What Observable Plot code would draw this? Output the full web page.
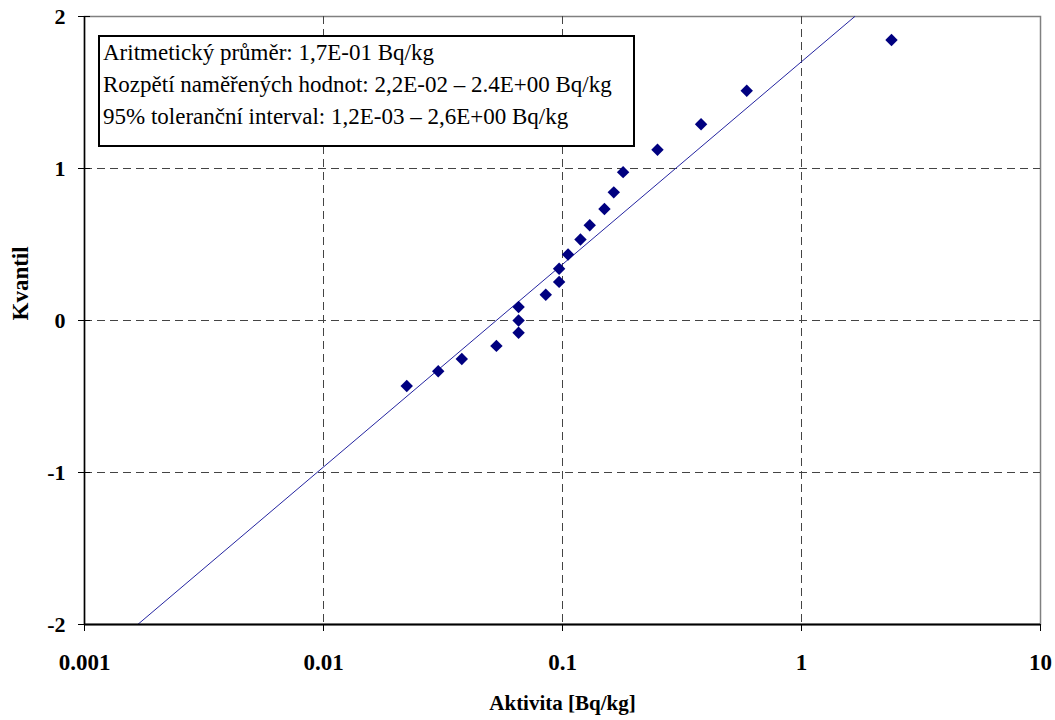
<!DOCTYPE html>
<html>
<head>
<meta charset="utf-8">
<script src="https://cdn.jsdelivr.net/npm/d3@7"></script>
<script src="https://cdn.jsdelivr.net/npm/@observablehq/plot@0.6"></script>
<style>
  html, body { margin: 0; padding: 0; background: #fff; }
  #wrap { position: relative; width: 1055px; height: 720px; }
  #box {
    position: absolute; left: 98px; top: 35px; width: 537px; height: 112px;
    box-sizing: border-box; border: 2px solid #000; background: #fff;
    padding: 0 0 0 3px; font-family: "Liberation Serif", "Times New Roman", serif; font-size: 23px;
    line-height: 32px; color: #000; white-space: nowrap;
  }
</style>
</head>
<body>
<div id="wrap"></div>
<script>
// Measured activity [Bq/kg] and their quantiles
const activity = [0.0223, 0.0302, 0.0379, 0.0529, 0.0655, 0.0655, 0.0655, 0.0851, 0.0968, 0.0968,
                  0.1055, 0.1189, 0.130, 0.1498, 0.1639, 0.1793, 0.2497, 0.380, 0.590, 2.38];
const quantile = [-0.431, -0.334, -0.253, -0.167, -0.081, 0, 0.0885, 0.170, 0.254, 0.341,
                  0.434, 0.533, 0.627, 0.733, 0.843, 0.976, 1.123, 1.291, 1.511, 1.845];
// Fitted lognormal line (end points)
const fitActivity = [0.00167, 1.671];
const fitQuantile = [-2, 2];
// Ticks
const xTicks = [0.001, 0.01, 0.1, 1, 10];
const yTicks = [-2, -1, 0, 1, 2];
const xGrid = [0.01, 0.1, 1];
const yGrid = [-1, 0, 1];
// Texts
const xTitle = "Aktivita [Bq/kg]";
const yTitle = "Kvantil";
const infoLines = [
  "Aritmetický průměr: 1,7E-01 Bq/kg",
  "Rozpětí naměřených hodnot: 2,2E-02 – 2.4E+00 Bq/kg",
  "95% toleranční interval: 1,2E-03 – 2,6E+00 Bq/kg"
];

const points = activity.map((a, i) => ({a, q: quantile[i]}));
const fit = fitActivity.map((a, i) => ({a, q: fitQuantile[i]}));
const serif = "'Liberation Serif', 'Times New Roman', serif";

const chart = Plot.plot({
  width: 1055,
  height: 720,
  marginLeft: 84,
  marginRight: 15,
  marginTop: 16,
  marginBottom: 96,
  style: {fontFamily: serif, fontWeight: "bold", background: "#fff", color: "#000"},
  x: {type: "log", domain: [0.001, 10]},
  y: {domain: [-2, 2]},
  marks: [
    Plot.frame({stroke: "#808080", strokeWidth: 1.5}),
    Plot.ruleX(xGrid, {stroke: "#444", strokeWidth: 1, strokeDasharray: "8,5"}),
    Plot.ruleY(yGrid, {stroke: "#444", strokeWidth: 1, strokeDasharray: "8,5"}),
    Plot.line(fit, {x: "a", y: "q", stroke: "#2424a0", strokeWidth: 1, clip: true}),
    Plot.dot(points, {x: "a", y: "q", symbol: "diamond2", r: 5.6, fill: "#000080", stroke: "none"}),
    Plot.ruleX([0.001], {stroke: "#000", strokeWidth: 1.5}),
    Plot.ruleY([-2], {stroke: "#000", strokeWidth: 2}),
    Plot.axisX({ticks: xTicks, tickFormat: () => "", tickSize: 7, label: null, stroke: "#000"}),
    Plot.axisY({ticks: yTicks, tickSize: 12, dx: 6, tickFormat: () => "", label: null, stroke: "#000"}),
    Plot.text(xTicks, {x: d => d, text: d => String(d), frameAnchor: "bottom", lineAnchor: "top",
                       dy: 29, fontSize: 23, fontWeight: "bold", fontFamily: serif}),
    Plot.text(yTicks, {y: d => d, text: d => String(d), frameAnchor: "left", textAnchor: "end",
                       dx: -19, fontSize: 22, fontWeight: "bold", fontFamily: serif}),
    Plot.text([xTitle], {frameAnchor: "bottom", dy: 85, lineAnchor: "bottom", fontSize: 21,
                         fontWeight: "bold", fontFamily: serif}),
    Plot.text([yTitle], {frameAnchor: "left", dx: -64, rotate: -90, fontSize: 23,
                         fontWeight: "bold", fontFamily: serif})
  ]
});

const wrap = document.getElementById("wrap");
wrap.appendChild(chart);
const box = document.createElement("div");
box.id = "box";
box.innerHTML = infoLines.map(t => `<div>${t}</div>`).join("");
wrap.appendChild(box);
</script>
</body>
</html>
